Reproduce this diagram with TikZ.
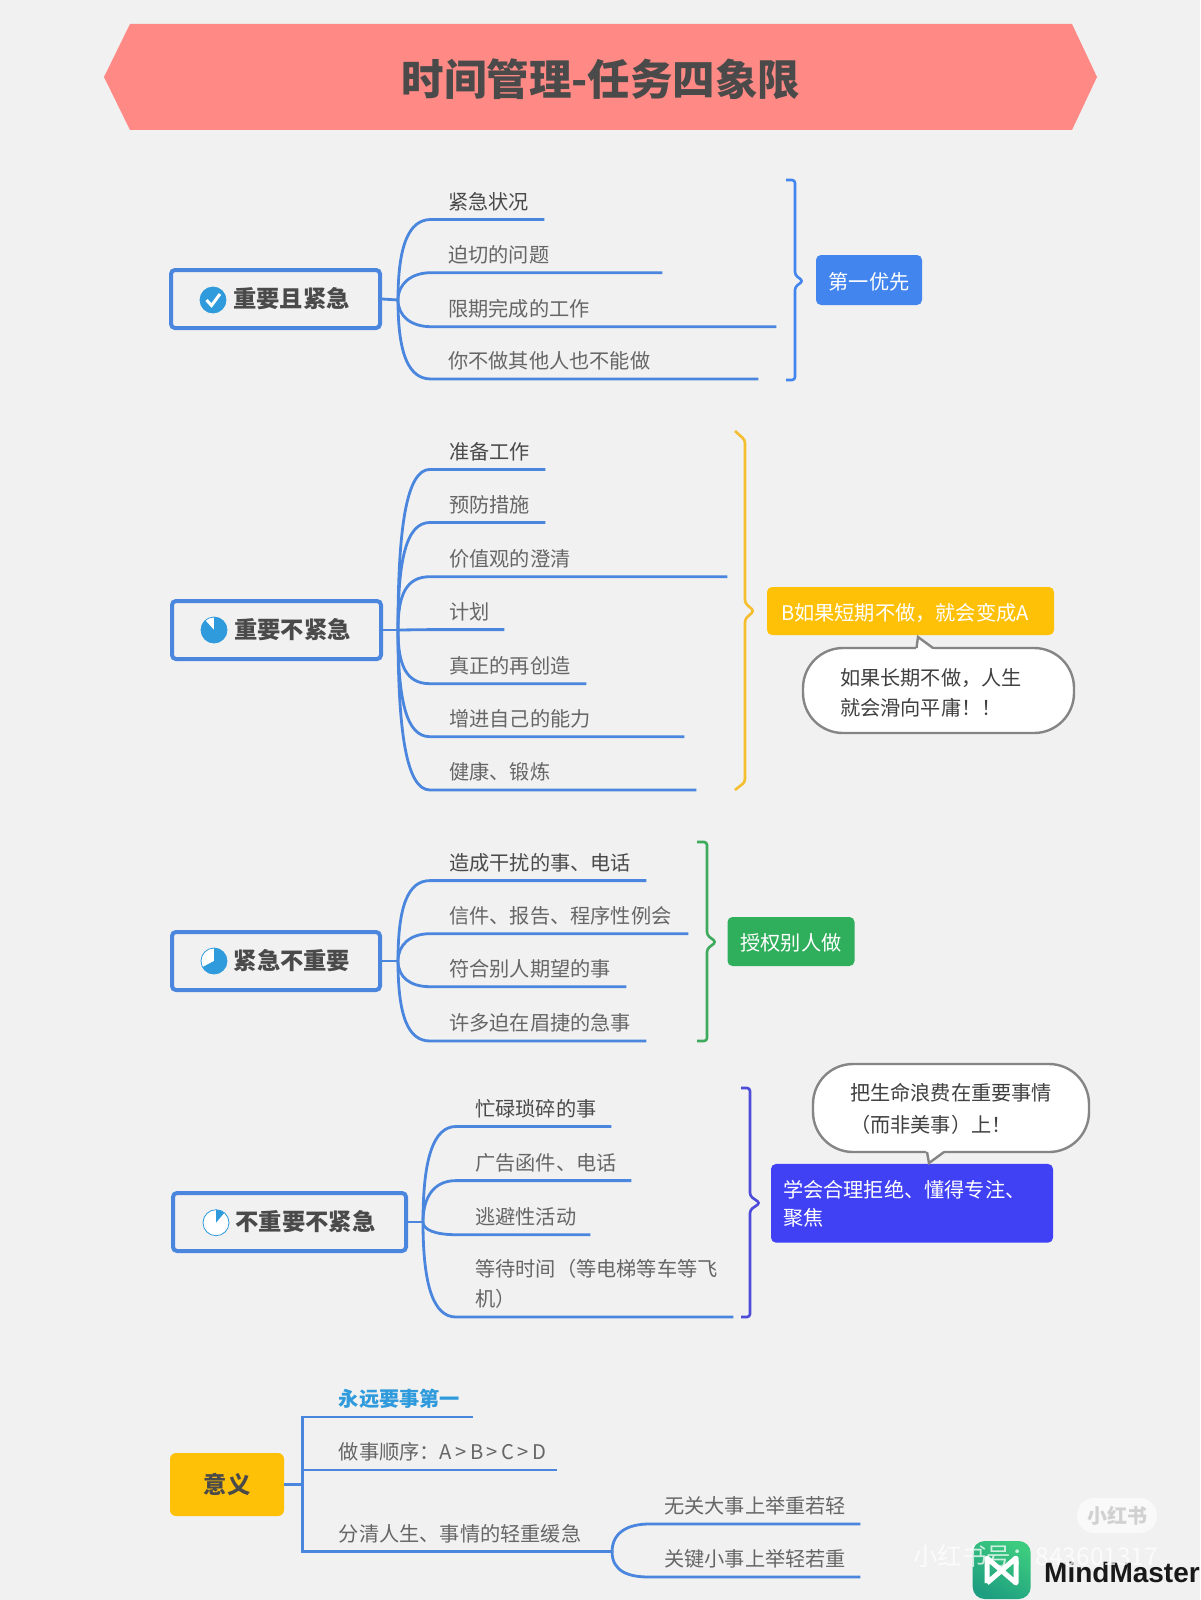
\documentclass[tikz,border=0pt]{standalone}
\usepackage{fontspec}
\setmainfont{Noto Sans CJK SC}
\newfontfamily\logofont{Liberation Sans}
\usepackage{tikz}
\definecolor{paperbg}{HTML}{F1F1F1}
\definecolor{titlered}{HTML}{FF8A85}
\definecolor{lineblue}{HTML}{4A86DE}
\definecolor{iconblue}{HTML}{2F9BDC}
\definecolor{inkdark}{HTML}{4A4A4A}
\definecolor{inkgray}{HTML}{666666}
\definecolor{tagblue}{HTML}{4285EE}
\definecolor{tagamber}{HTML}{FFC107}
\definecolor{tagbrace}{HTML}{F5BE2E}
\definecolor{taggreen}{HTML}{2FAE5B}
\definecolor{tagindigo}{HTML}{4040F5}
\definecolor{bracegreen}{HTML}{3DAA5C}
\definecolor{braceindigo}{HTML}{4C4CD8}
\definecolor{calloutgray}{HTML}{858585}
\definecolor{logolight}{HTML}{3CCB7F}
\definecolor{logodeep}{HTML}{1E9E80}

\begin{document}
\begin{tikzpicture}[x=1pt,y=-1pt,
    rootbox/.style={draw=lineblue,line width=4pt,rounded corners=4pt,fill=paperbg,text=inkdark,minimum height=58pt,inner sep=0pt,text height=21pt,text depth=3.5pt,font=\fontsize{23.3}{28}\selectfont\bfseries},
    iconbase/.style={circle,draw=iconblue,line width=0.8pt,fill=white,minimum size=26pt,inner sep=0pt},
    leaf/.style n args={2}{anchor=south west,inner xsep=0pt,inner ysep=7pt,text width=#1pt,text height=15pt,text depth=3pt,align=left,text=inkgray,font=\fontsize{20.2}{30}\selectfont,execute at begin node=\hspace*{#2pt}},
    branch/.style={draw=lineblue,line width=2.8pt},
    stub/.style={draw=lineblue,line width=2.8pt},
    tagbox/.style={rounded corners=5pt,text=white,inner sep=0pt,text height=21pt,text depth=3pt,font=\fontsize{20.2}{28}\selectfont},
    callout/.style={draw=calloutgray,line width=2.4pt,fill=white,rounded corners=40pt,inner xsep=37pt,inner ysep=0pt,align=left,text=black!75,font=\fontsize{20.2}{30}\selectfont},
    bracket/.style={line width=2.6pt,rounded corners=3pt}]
  \useasboundingbox (0,0) rectangle (1200,1600);
  \fill[paperbg] (0,0) rectangle (1200,1600);

  % Title banner
  \fill[titlered] (104,77) -- (130,24) -- (1072,24) -- (1097,77) -- (1072,130) -- (130,130) -- cycle;
  \node[text=inkdark,font=\fontsize{42.5}{50}\selectfont\bfseries] (title) at (601,79) {时间管理-任务四象限};

  % Group A
  \node[rootbox,minimum width=209pt] (rootA) at (275.5,299) {\hspace*{32pt}重要且紧急};
  \node[iconbase,fill=iconblue] (iconA) at (213,300) {};
  \draw[white,line width=3pt] (206.5,300) -- (211.5,305.5) -- (220,294);
  \coordinate (hubA) at (398,300);
  \node[leaf={113}{17},text=inkdark] (a1) at (431,219.5) {紧急状况};
  \node[leaf={231}{17}] (a2) at (431,272.7) {迫切的问题};
  \node[leaf={345}{17}] (a3) at (431,326.7) {限期完成的工作};
  \node[leaf={327}{17}] (a4) at (431,379) {你不做其他人也不能做};
  \draw[stub] (rootA.east) -- (hubA);
  \draw[branch] (hubA) .. controls +(0,-55) and +(-22,0) .. (a1.south west) -- (a1.south east);
  \draw[branch] (hubA) .. controls +(0,-16) and +(-20,0) .. (a2.south west) -- (a2.south east);
  \draw[branch] (hubA) .. controls +(0,16) and +(-20,0) .. (a3.south west) -- (a3.south east);
  \draw[branch] (hubA) .. controls +(0,55) and +(-22,0) .. (a4.south west) -- (a4.south east);
  \draw[bracket,tagblue] (786,180) -- (795,180) -- (795,275) -- (803,281) -- (795,287) -- (795,380) -- (786,380);
  \node[tagbox,fill=tagblue,minimum width=106pt,minimum height=50pt] (tagA) at (869,280) {第一优先};

  % Group B
  \node[rootbox,minimum width=209pt] (rootB) at (276.5,630) {\hspace*{32pt}重要不紧急};
  \node[iconbase] (iconB) at (214,630) {};
  \fill[iconblue] (iconB.center) -- +(-90:13) arc[start angle=-90,end angle=228,radius=13] -- cycle;
  \coordinate (hubB) at (398,630);
  \node[leaf={115}{19},text=inkdark] (b1) at (430,469.4) {准备工作};
  \node[leaf={115}{19}] (b2) at (430,522.5) {预防措施};
  \node[leaf={297}{19}] (b3) at (430,576.7) {价值观的澄清};
  \node[leaf={74}{19}] (b4) at (430,629.6) {计划};
  \node[leaf={156}{19}] (b5) at (430,683.7) {真正的再创造};
  \node[leaf={254}{19}] (b6) at (430,736.7) {增进自己的能力};
  \node[leaf={266}{19}] (b7) at (430,790) {健康、锻炼};
  \draw[stub] (rootB.east) -- (hubB);
  \draw[branch] (hubB) .. controls +(0,-100) and +(-24,0) .. (b1.south west) -- (b1.south east);
  \draw[branch] (hubB) .. controls +(0,-70) and +(-24,0) .. (b2.south west) -- (b2.south east);
  \draw[branch] (hubB) .. controls +(0,-35) and +(-24,0) .. (b3.south west) -- (b3.south east);
  \draw[branch] (hubB) -- (b4.south west) -- (b4.south east);
  \draw[branch] (hubB) .. controls +(0,35) and +(-24,0) .. (b5.south west) -- (b5.south east);
  \draw[branch] (hubB) .. controls +(0,70) and +(-24,0) .. (b6.south west) -- (b6.south east);
  \draw[branch] (hubB) .. controls +(0,100) and +(-24,0) .. (b7.south west) -- (b7.south east);
  \draw[bracket,tagbrace] (735,431) -- (745,440) -- (745,603) -- (754,611) -- (745,619) -- (745,782) -- (735,790);
  \node[tagbox,fill=tagamber,text width=259pt,inner xsep=14pt,minimum height=48pt,align=left] (tagB) at (910.5,611) {B如果短期不做，就会变成A};
  \node[callout,text width=197pt,minimum height=85pt,text height=23pt,text depth=33pt] (noteB) at (938.5,690.5) {如果长期不做，人生\\就会滑向平庸！！};
  \fill[white] (916,650) -- (918,637) -- (934,650) -- cycle;
  \draw[line width=2.4pt,calloutgray] (916.5,648) -- (918,637) -- (933,648);

  % Group C
  \node[rootbox,minimum width=208pt] (rootC) at (276,961) {\hspace*{32pt}紧急不重要};
  \node[iconbase] (iconC) at (214,961) {};
  \fill[iconblue] (iconC.center) -- +(-90:13) arc[start angle=-90,end angle=152,radius=13] -- cycle;
  \coordinate (hubC) at (398,961);
  \node[leaf={216}{19},text=inkdark] (c1) at (430,880.6) {造成干扰的事、电话};
  \node[leaf={258}{19}] (c2) at (430,933.7) {信件、报告、程序性例会};
  \node[leaf={196}{19}] (c3) at (430,986.7) {符合别人期望的事};
  \node[leaf={216}{19}] (c4) at (430,1041) {许多迫在眉捷的急事};
  \draw[stub] (rootC.east) -- (hubC);
  \draw[branch] (hubC) .. controls +(0,-55) and +(-22,0) .. (c1.south west) -- (c1.south east);
  \draw[branch] (hubC) .. controls +(0,-16) and +(-20,0) .. (c2.south west) -- (c2.south east);
  \draw[branch] (hubC) .. controls +(0,16) and +(-20,0) .. (c3.south west) -- (c3.south east);
  \draw[branch] (hubC) .. controls +(0,55) and +(-22,0) .. (c4.south west) -- (c4.south east);
  \draw[bracket,bracegreen] (697,842) -- (707,842) -- (707,935) -- (716,942) -- (707,949) -- (707,1041) -- (697,1041);
  \node[tagbox,fill=taggreen,minimum width=127pt,minimum height=49pt] (tagC) at (791,941.5) {授权别人做};

  % Group D
  \node[rootbox,minimum width=233pt] (rootD) at (289.5,1222) {\hspace*{32pt}不重要不紧急};
  \node[iconbase] (iconD) at (216,1222.7) {};
  \fill[iconblue] (iconD.center) -- +(-90:13) arc[start angle=-90,end angle=-50,radius=13] -- cycle;
  \coordinate (hubD) at (423,1222);
  \node[leaf={155}{19},text=inkdark] (d1) at (456,1126.5) {忙碌琐碎的事};
  \node[leaf={175}{19}] (d2) at (456,1180.6) {广告函件、电话};
  \node[leaf={134}{19}] (d3) at (456,1234.7) {逃避性活动};
  \node[leaf={277}{19},text depth=33pt] (d4) at (456,1317) {等待时间（等电梯等车等飞\\\hspace*{19pt}机）};
  \draw[stub] (rootD.east) -- (hubD);
  \draw[branch] (hubD) .. controls +(0,-65) and +(-22,0) .. (d1.south west) -- (d1.south east);
  \draw[branch] (hubD) .. controls +(0,-25) and +(-22,0) .. (d2.south west) -- (d2.south east);
  \draw[branch] (hubD) .. controls +(0,8) and +(-20,0) .. (d3.south west) -- (d3.south east);
  \draw[branch] (hubD) .. controls +(0,65) and +(-22,0) .. (d4.south west) -- (d4.south east);
  \draw[bracket,braceindigo] (741,1088) -- (750,1088) -- (750,1196) -- (760,1203) -- (750,1210) -- (750,1317) -- (741,1317);
  \node[tagbox,fill=tagindigo,text width=258pt,inner xsep=12pt,minimum height=78.7pt,text height=20pt,text depth=31pt,align=left] (tagD) at (912,1203.3) {学会合理拒绝、懂得专注、\\聚焦};
  \node[callout,text width=202pt,minimum height=88pt,text height=20pt,text depth=35pt,font=\fontsize{20.2}{32}\selectfont] (noteD) at (951,1108) {把生命浪费在重要事情\\（而非美事）上！};
  \fill[white] (926,1150) -- (929,1163) -- (945,1150) -- cycle;
  \draw[line width=2.4pt,calloutgray] (927,1152) -- (929,1163) -- (944,1152);

  % Meaning
  \node[fill=tagamber,rounded corners=6pt,text=inkdark,minimum width=114pt,minimum height=63pt,inner sep=0pt,text height=21pt,text depth=3.5pt,font=\fontsize{23.3}{28}\selectfont\bfseries] (rootE) at (227,1484.5) {意义};
  \coordinate (hubE) at (302.7,1484.5);
  \node[leaf={170}{36},text=iconblue,font=\fontsize{20.2}{30}\selectfont\bfseries] (e1) at (302.7,1417) {永远要事第一};
  \node[leaf={254}{36}] (e2) at (302.7,1470) {做事顺序：A\,>\,B\,>\,C\,>\,D};
  \node[leaf={309}{36}] (e3) at (302.7,1551.7) {分清人生、事情的轻重缓急};
  \node[leaf={211}{15}] (e4) at (649,1524) {无关大事上举重若轻};
  \node[leaf={211}{15}] (e5) at (649,1577) {关键小事上举轻若重};
  \draw[stub] (rootE.east) -- (hubE);
  \draw[branch] (e1.south east) -- (e1.south west) -- (e3.south west) -- (e3.south east);
  \draw[branch] (hubE) -- (hubE |- e2.south) -- (e2.south east);
  \draw[branch] (e3.south east) .. controls +(0,-20) and +(-20,0) .. (e4.south west) -- (e4.south east);
  \draw[branch] (e3.south east) .. controls +(0,20) and +(-20,0) .. (e5.south west) -- (e5.south east);

  % Watermarks
  \node[fill=white!60!paperbg,rounded corners=17pt,minimum width=80pt,minimum height=35pt,inner sep=0pt,text=black!18,font=\fontsize{20}{24}\selectfont\bfseries] (badge) at (1117,1515.5) {小红书};
  \node[left color=logolight,right color=logodeep,shading angle=-30,rounded corners=12pt,minimum width=58pt,minimum height=58pt,inner sep=0pt] (logo) at (1001.7,1570) {};
  \draw[white,line width=5pt,line join=round] (987,1583) -- (987,1558) -- (1016,1583) -- (1016,1558) -- (987,1583);
  \node[anchor=west,inner sep=0pt,text=black!90,font=\logofont\fontsize{28}{32}\selectfont\bfseries] (brand) at (1044,1572) {MindMaster};
  \node[anchor=west,inner sep=0pt,text=white,opacity=0.75,font=\fontsize{24.5}{30}\selectfont] (serial) at (913,1556) {小红书号：843601317};
\end{tikzpicture}
\end{document}
